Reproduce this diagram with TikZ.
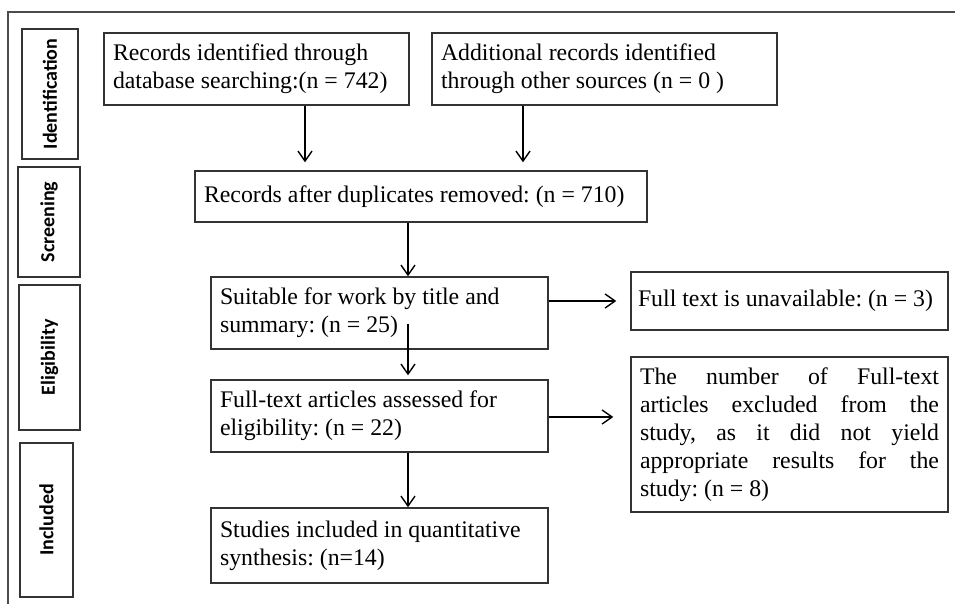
\documentclass[tikz,border=0pt]{standalone}
\usepackage{fontspec}
\setmainfont{Liberation Serif}
\newfontfamily\stagefont{Carlito}
\usetikzlibrary{arrows.meta}
\newcommand{\jline}[1]{\makebox[149.5pt][s]{#1}}
\frenchspacing

\begin{document}
\begin{tikzpicture}[x=0.5pt,y=-0.5pt,
  box/.style={draw=black!80,line width=0.7pt,align=left,inner xsep=4.5pt,inner ysep=0pt,font=\fontsize{11.9}{14}\selectfont,
    execute at begin node={\spaceskip=0pt\xspaceskip=0pt}},
  stage/.style={draw=black!80,line width=0.7pt,rotate=90,inner sep=0pt,font=\stagefont\bfseries\fontsize{10}{12}\selectfont},
  arr/.style={line width=0.7pt,-{Straight Barb[length=5pt,width=7pt]}}]
\useasboundingbox (0,0) rectangle (955,604);
\draw[line width=1pt,black!70] (955,12) -- (8,12) -- (8,604);
\node[stage,minimum width=65pt,minimum height=28pt] (s1) at (50,94) {Identification};
\node[stage,minimum width=55pt,minimum height=31pt] (s2) at (49,222) {Screening};
\node[stage,minimum width=72.5pt,minimum height=30.5pt] (s3) at (49.5,357.5) {Eligibility};
\node[stage,minimum width=77pt,minimum height=26.5pt] (s4) at (46.5,520) {Included};
\node[box,minimum width=152.5pt,minimum height=36pt,text width=143.5pt] (a) at (256.5,69) {Records identified through\\database searching:(n = 742)};
\node[box,minimum width=172.5pt,minimum height=36pt,text width=163.5pt] (b) at (604.5,69) {Additional records identified\\through other sources (n = 0 )};
\node[box,minimum width=226pt,minimum height=25.5pt,text width=217pt] (c) at (421,196.5) {Records after duplicates removed: (n = 710)};
\node[box,minimum width=168.5pt,minimum height=36pt,text width=159.5pt] (d) at (379.5,313) {Suitable for work by title and\\summary: (n = 25)};
\node[box,minimum width=168.5pt,minimum height=36pt,text width=159.5pt] (e) at (379.5,416) {Full-text articles assessed for\\eligibility: (n = 22)};
\node[box,minimum width=168.5pt,minimum height=37.5pt,text width=159.5pt] (f) at (379.5,545.5) {Studies included in quantitative\\synthesis: (n=14)};
\node[box,inner xsep=3.5pt,minimum width=158.5pt,minimum height=29pt,text width=151.5pt] (g) at (789.5,301) {Full text is unavailable: (n = 3)};
\node[box,minimum width=158.5pt,minimum height=77.5pt,text width=149.5pt] (h) at (789.5,434.5) {\jline{The number of Full-text}\\\jline{articles excluded from the}\\\jline{study, as it did not yield}\\\jline{appropriate results for the}\\study: (n = 8)};
\coordinate (x1) at (305,0);
\coordinate (x2) at (523,0);
\coordinate (x3) at (408,0);
\coordinate (y1) at (0,301);
\coordinate (y2) at (0,417);
\coordinate (d1) at ([yshift=13pt]d.south -| x3);
\draw[arr,shorten >=4pt] (a.south -| x1) -- (c.north -| x1);
\draw[arr,shorten >=4pt] (b.south -| x2) -- (c.north -| x2);
\draw[arr] (c.south -| x3) -- (d.north -| x3);
\draw[arr,shorten >=2pt] (d1) -- (e.north -| x3);
\draw[arr] (e.south -| x3) -- (f.north -| x3);
\draw[arr,shorten >=7pt] (d.east |- y1) -- (g.west |- y1);
\draw[arr,shorten >=8.5pt] (e.east |- y2) -- (h.west |- y2);
\end{tikzpicture}
\end{document}
